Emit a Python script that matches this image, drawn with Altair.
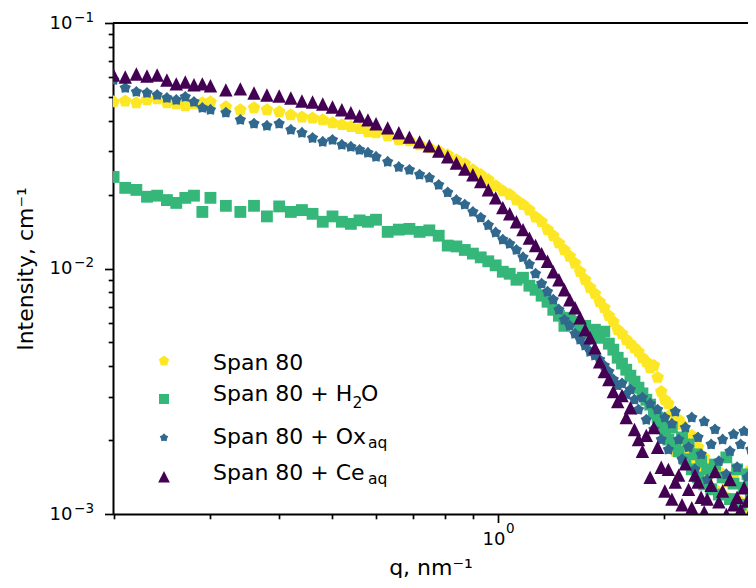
import altair as alt
import pandas as pd

# ---------------- data ----------------
q = [0.20, 0.21, 0.22, 0.23, 0.24, 0.25, 0.26, 0.27, 0.28, 0.29, 0.30,
     0.32, 0.34, 0.36, 0.38, 0.40, 0.42, 0.44, 0.46, 0.48, 0.50, 0.52, 0.54, 0.56, 0.58, 0.60,
     0.63, 0.66, 0.69, 0.72, 0.75, 0.78, 0.81, 0.84, 0.87, 0.90, 0.93, 0.96, 0.99,
     1.02, 1.05, 1.08, 1.11, 1.14, 1.17, 1.20, 1.23, 1.26, 1.29,
     1.32, 1.35, 1.38, 1.41, 1.44, 1.47, 1.50, 1.53, 1.56, 1.59,
     1.62, 1.65, 1.68, 1.71, 1.74, 1.77, 1.80, 1.83, 1.86, 1.89,
     1.92, 1.95, 1.98, 2.01, 2.04, 2.07, 2.10, 2.13, 2.16, 2.19,
     2.22, 2.25, 2.28, 2.31, 2.34, 2.37, 2.40,
     2.44, 2.48, 2.52, 2.56, 2.60, 2.64, 2.68, 2.72, 2.76, 2.80, 2.84, 2.88, 2.92, 2.96]

span80 = [0.0477, 0.0481, 0.0473, 0.0486, 0.0491, 0.0473, 0.0468, 0.0460, 0.0468, 0.0473, 0.0477,
          0.0455, 0.0443, 0.0451, 0.0443, 0.0435, 0.0422, 0.0414, 0.0410, 0.0403, 0.0392, 0.0385, 0.0378, 0.0371, 0.0360, 0.0357,
          0.0347, 0.0334, 0.0331, 0.0319, 0.0310, 0.0301, 0.0290, 0.0277, 0.0267, 0.0252, 0.0241, 0.0230, 0.0217,
          0.0207, 0.0200, 0.0190, 0.0182, 0.0173, 0.0162, 0.0155, 0.0144, 0.0136, 0.0127,
          0.0119, 0.0112, 0.0105, 0.00970, 0.00900, 0.00836, 0.00789, 0.00732, 0.00692, 0.00642,
          0.00607, 0.00563, 0.00542, 0.00513, 0.00494, 0.00475, 0.00458, 0.00433, 0.00417, 0.00394,
          0.00402, 0.00360, 0.00315, 0.00292, 0.00281, 0.00256, 0.00180, 0.00242, 0.00231, 0.00201,
          0.00173, 0.00209, 0.00164, 0.00187, 0.00152, 0.00170, 0.00138,
          0.00157, 0.00126, 0.00149, 0.00120, 0.00135, 0.00115, 0.00144, 0.00109, 0.00112, 0.00128, 0.00104, 0.00152, 0.00117, 0.00126]

h2o = [0.0236, 0.0213, 0.0209, 0.0196, 0.0198, 0.0190, 0.0185, 0.0194, 0.0198, 0.0170, 0.0194,
       0.0180, 0.0170, 0.0180, 0.0163, 0.0179, 0.0170, 0.0173, 0.0167, 0.0155, 0.0163, 0.0155, 0.0152, 0.0157, 0.0155, 0.0158,
       0.0141, 0.0144, 0.0145, 0.0141, 0.0143, 0.0136, 0.0124, 0.0123, 0.0119, 0.0115, 0.0111, 0.0107, 0.0103,
       0.00970, 0.00952, 0.00900, 0.00917, 0.00851, 0.00819, 0.00775, 0.00732, 0.00679, 0.00642,
       0.00584, 0.00630, 0.00607, 0.00563, 0.00584, 0.00542, 0.00563, 0.00522, 0.00553, 0.00494,
       0.00467, 0.00433, 0.00410, 0.00387, 0.00366, 0.00346, 0.00327, 0.00310, 0.00292, 0.00279,
       0.00261, 0.00247, 0.00233, 0.00221, 0.00201, 0.00225, 0.00190, 0.00180, 0.00205, 0.00167,
       0.00192, 0.00152, 0.00175, 0.00141, 0.00164, 0.00132, 0.00152,
       0.00126, 0.00159, 0.00120, 0.00141, 0.00170, 0.00115, 0.00133, 0.00152, 0.00109, 0.00128, 0.00145, 0.00117, 0.00135, 0.00124]

ox_aq = [0.0586, 0.0544, 0.0524, 0.0519, 0.0509, 0.0495, 0.0486, 0.0500, 0.0477, 0.0451, 0.0443,
         0.0431, 0.0403, 0.0389, 0.0381, 0.0389, 0.0367, 0.0357, 0.0340, 0.0328, 0.0334, 0.0319, 0.0313, 0.0304, 0.0296, 0.0285,
         0.0272, 0.0259, 0.0252, 0.0241, 0.0234, 0.0219, 0.0204, 0.0190, 0.0182, 0.0170, 0.0161, 0.0150, 0.0140,
         0.0131, 0.0126, 0.0119, 0.0111, 0.0104, 0.00952, 0.00867, 0.00804, 0.00746, 0.00679,
         0.00618, 0.00584, 0.00542, 0.00513, 0.00485, 0.00458, 0.00442, 0.00425, 0.00402, 0.00380,
         0.00353, 0.00334, 0.00340, 0.00307, 0.00321, 0.00292, 0.00266, 0.00298, 0.00242, 0.00281,
         0.00221, 0.00266, 0.00201, 0.00247, 0.00183, 0.00233, 0.00261, 0.00201, 0.00167, 0.00225,
         0.00187, 0.00247, 0.00152, 0.00205, 0.00175, 0.00238, 0.00138,
         0.00192, 0.00221, 0.00164, 0.00201, 0.00145, 0.00180, 0.00211, 0.00155, 0.00192, 0.00217, 0.00141, 0.00183, 0.00201, 0.00164]

ce_aq = [0.0614, 0.0603, 0.0620, 0.0608, 0.0614, 0.0586, 0.0565, 0.0575, 0.0560, 0.0565, 0.0555,
         0.0534, 0.0539, 0.0519, 0.0509, 0.0504, 0.0495, 0.0481, 0.0477, 0.0468, 0.0455, 0.0443, 0.0431, 0.0418, 0.0403, 0.0389,
         0.0374, 0.0357, 0.0343, 0.0328, 0.0316, 0.0301, 0.0285, 0.0269, 0.0254, 0.0241, 0.0226, 0.0209, 0.0194,
         0.0177, 0.0167, 0.0155, 0.0144, 0.0133, 0.0124, 0.0115, 0.0107, 0.00970, 0.00900,
         0.00819, 0.00746, 0.00692, 0.00630, 0.00563, 0.00522, 0.00475, 0.00417, 0.00380, 0.00353,
         0.00315, 0.00287, 0.00304, 0.00247, 0.00271, 0.00221, 0.00201, 0.00180, 0.00209, 0.00141,
         0.00225, 0.00187, 0.00155, 0.00124, 0.00152, 0.00115, 0.00135, 0.00144, 0.00109, 0.00160,
         0.00126, 0.00106, 0.00144, 0.00135, 0.00117, 0.00102, 0.00115,
         0.00131, 0.00149, 0.00112, 0.00124, 0.000995, 0.00138, 0.00109, 0.00117, 0.00104, 0.00128, 0.00113, 0.00102, 0.00120, 0.00109]

x_ticks = [0.2, 0.3, 0.4, 0.5, 0.6, 0.7, 0.8, 0.9, 1.0, 2.0]
y_ticks = [0.001, 0.002, 0.003, 0.004, 0.005, 0.006, 0.007, 0.008, 0.009,
           0.01, 0.02, 0.03, 0.04, 0.05, 0.06, 0.07, 0.08, 0.09, 0.1]
y_decades = [0.1, 0.01, 0.001]
y_exponents = ["−1", "−2", "−3"]
x_decades = [1.0]
x_exponents = ["0"]

# ---------------- styling ----------------
FONT = "DejaVu Sans"
W, H = 635, 491
PENT = "M0,-1L0.951,-0.309L0.588,0.809L-0.588,0.809L-0.951,-0.309Z"
STAR = ("M0,-1L0.411,-0.566L0.951,-0.309L0.666,0.216L0.588,0.809L0,0.7"
        "L-0.588,0.809L-0.666,0.216L-0.951,-0.309L-0.411,-0.566Z")
TRI = "M0,-1L1,1L-1,1Z"
SQR = "M-1,-1L1,-1L1,1L-1,1Z"

series = [
    ("Span 80", span80, "#fde725", PENT, 175),
    ("Span 80 + H2O", h2o, "#35b779", SQR, 140),
    ("Span 80 + Ox_aq", ox_aq, "#31688e", STAR, 145),
    ("Span 80 + Ce_aq", ce_aq, "#440154", TRI, 180),
]

x_axis = alt.Axis(
    values=x_ticks,
    labelExpr="datum.value == 1 ? '10' : ''",
    title="q, nm⁻¹",
    titleFont=FONT, titleFontSize=22, titleFontWeight="normal", titleColor="black",
    titleX=W / 2, titleY=60, titleBaseline="alphabetic", titleAlign="center",
    labelFont=FONT, labelFontSize=18, labelColor="black", labelPadding=7.5,
    labelBaseline="top", labelAlign="center", labelOffset=-4.5,
    tickSize=alt.condition("datum.value == 1", alt.value(8.5), alt.value(4.8)),
    tickWidth=1.7, tickColor="black", domainColor="black", domainWidth=2,
    grid=False, labelOverlap=False,
)
y_axis = alt.Axis(
    values=y_ticks,
    labelExpr="(datum.value == 0.1 || datum.value == 0.01 || datum.value == 0.001) ? '10' : ''",
    title="Intensity, cm⁻¹",
    titleFont=FONT, titleFontSize=22, titleFontWeight="normal", titleColor="black",
    titleX=-81, titleY=H / 2, titleBaseline="alphabetic", titleAlign="center", titleAngle=270,
    labelFont=FONT, labelFontSize=18, labelColor="black", labelPadding=32.5,
    tickSize=alt.condition("datum.value == 0.1 || datum.value == 0.01 || datum.value == 0.001",
                           alt.value(8.5), alt.value(4.8)),
    tickWidth=1.7, tickColor="black", domainColor="black", domainWidth=2,
    grid=False, labelOverlap=False,
)

x_scale = alt.Scale(type="log", domain=[0.1995, 2.847], nice=False)
y_scale = alt.Scale(type="log", domain=[0.001, 0.1], nice=False)

layers = []
for name, vals, color, shape, size in series:
    df = pd.DataFrame({"q": q, "I": vals, "series": name})
    layers.append(
        alt.Chart(df).mark_point(shape=shape, size=size, filled=True, opacity=1,
                                 color=color, clip=True)
        .encode(x=alt.X("q:Q", scale=x_scale, axis=x_axis),
                y=alt.Y("I:Q", scale=y_scale, axis=y_axis))
    )

# exponents of the tick labels (superscripts)
ydf = pd.DataFrame({"I": y_decades, "t": y_exponents})
layers.append(alt.Chart(ydf).mark_text(align="right", baseline="alphabetic", dy=-1.5,
                                       font=FONT, fontSize=13.5, color="black")
              .encode(y=alt.Y("I:Q", scale=y_scale, axis=y_axis), x=alt.value(-19), text="t:N"))
xdf = pd.DataFrame({"q": x_decades, "t": x_exponents})
layers.append(alt.Chart(xdf).mark_text(align="left", baseline="alphabetic", dx=8,
                                       font=FONT, fontSize=13.5, color="black")
              .encode(x=alt.X("q:Q", scale=x_scale, axis=x_axis), y=alt.value(H + 19), text="t:N"))

one = pd.DataFrame({"a": [0]})
# top spine
layers.append(alt.Chart(one).mark_rule(color="black", strokeWidth=2)
              .encode(x=alt.value(0), x2=alt.value(W), y=alt.value(0)))

# legend (markers + labels with subscripts)
leg_marks = [(338, PENT, "#fde725", 117), (376, SQR, "#35b779", 100),
             (414.7, STAR, "#31688e", 80), (453.7, TRI, "#440154", 135)]
for yy, shape, color, size in leg_marks:
    layers.append(alt.Chart(one).mark_point(shape=shape, size=size, filled=True, opacity=1, color=color)
                  .encode(x=alt.value(51), y=alt.value(yy)))

leg_texts = [
    ("Span 80", 100, 347, 22),
    ("Span 80 + H", 100, 377.7, 22), ("2", 239.5, 385, 15.5), ("O", 248, 377.7, 22),
    ("Span 80 + Ox", 100, 421.3, 22), ("aq", 255, 424.5, 15.5),
    ("Span 80 + Ce", 100, 457, 22), ("aq", 255, 460.5, 15.5),
]
for txt, xx, yy, fs in leg_texts:
    layers.append(alt.Chart(one).mark_text(text=txt, align="left", baseline="alphabetic",
                                           font=FONT, fontSize=fs, color="black")
                  .encode(x=alt.value(xx), y=alt.value(yy)))

chart = (
    alt.layer(*layers)
    .properties(width=W, height=H,
                padding={"left": 105, "top": 15, "right": 0, "bottom": 64},
                autosize=alt.AutoSizeParams(type="none"))
    .configure_view(stroke=None)
    .configure(background="white")
)

chart.save("out.html", embed_options={"renderer": "svg", "actions": False})
